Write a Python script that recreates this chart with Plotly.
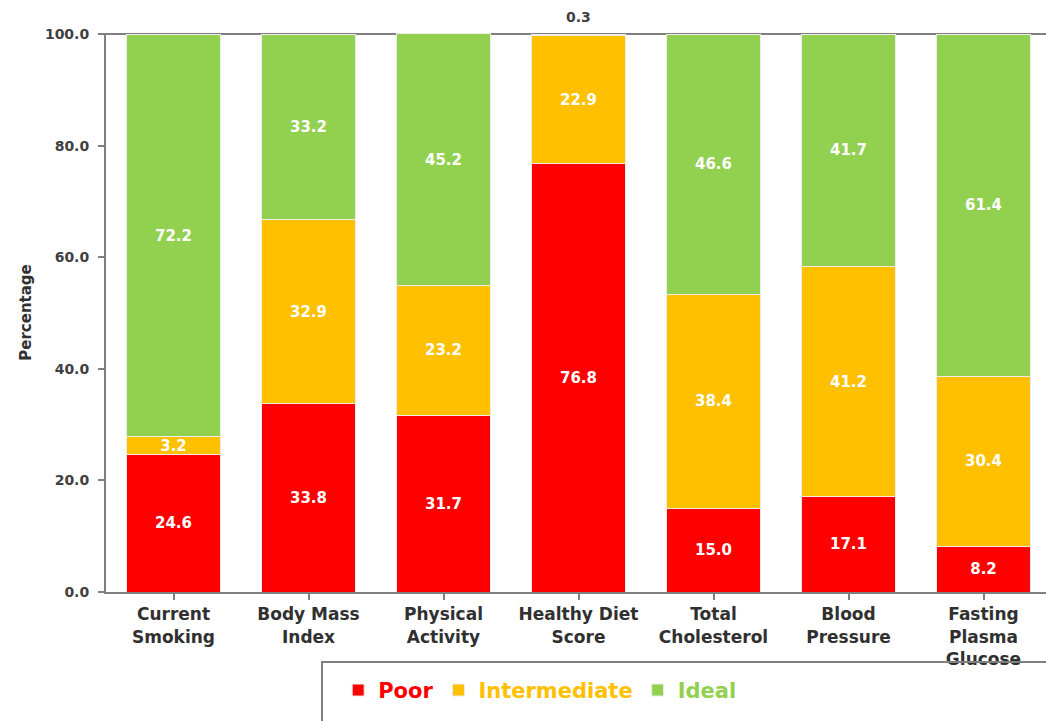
import plotly.graph_objects as go

# Cardiovascular health metrics: share of participants in each category
metrics = [
    "Current<br>Smoking",
    "Body Mass<br>Index",
    "Physical<br>Activity",
    "Healthy Diet<br>Score",
    "Total<br>Cholesterol",
    "Blood<br>Pressure",
    "Fasting<br>Plasma<br>Glucose",
]
poor = [24.6, 33.8, 31.7, 76.8, 15.0, 17.1, 8.2]
intermediate = [3.2, 32.9, 23.2, 22.9, 38.4, 41.2, 30.4]
ideal = [72.2, 33.2, 45.2, 0.3, 46.6, 41.7, 61.4]
y_ticks = [0, 20, 40, 60, 80, 100]

RED, AMBER, GREEN = "#FF0000", "#FFC000", "#92D050"
FONT = "DejaVu Sans"
THIN = 1.0  # segments thinner than this are labelled above the stack

x = list(range(len(metrics)))


def fmt(v):
    return f"{v:.1f}"


fig = go.Figure()
series = [
    ("Poor", poor, RED),
    ("Intermediate", intermediate, AMBER),
    ("Ideal", ideal, GREEN),
]
for name, vals, color in series:
    fig.add_trace(go.Bar(
        x=x, y=vals, width=0.70,
        name=f'<b><span style="color:{color}">{name}</span></b>',
        marker=dict(color=color, line=dict(color="#EDEDED", width=1)),
        text=["" if v < THIN else f"<b>{fmt(v)}</b>" for v in vals],
        textposition="inside",
        insidetextanchor="middle",
        insidetextfont=dict(family=FONT, size=15, color="white"),
        cliponaxis=False,
    ))

# labels for very thin segments, placed above the 100 % line
for i in x:
    if ideal[i] < THIN:
        fig.add_annotation(
            x=i, y=100, xref="x", yref="y", yanchor="bottom", yshift=7,
            text=f"<b>{fmt(ideal[i])}</b>", showarrow=False,
            font=dict(family=FONT, size=14, color="#404040"),
        )

fig.update_layout(
    width=1046, height=721,
    barmode="stack",
    plot_bgcolor="white", paper_bgcolor="white",
    margin=dict(l=106, r=0, t=33, b=129),
    uniformtext=dict(minsize=15, mode="show"),
    showlegend=True,
    legend=dict(
        orientation="h", x=0.247, y=-0.176, xanchor="left", yanchor="middle",
        font=dict(family=FONT, size=21),
        bgcolor="rgba(0,0,0,0)", itemclick=False,
        traceorder="normal",
    ),
    font=dict(family=FONT),
)

fig.update_xaxes(
    tickmode="array", tickvals=x,
    ticktext=[f"<b>{m}</b>" for m in metrics],
    range=[-0.5, 6.463],
    tickson="boundaries", ticks="outside", ticklen=6, tickcolor="#808080",
    tickwidth=2,
    showline=True, linecolor="#808080", linewidth=2,
    showgrid=False, zeroline=False,
    tickfont=dict(family=FONT, size=17, color="#303030"),
)
# a little headroom so stacks summing to 100.1 stay inside the axis
fig.update_yaxes(
    range=[0, 100.2],
    tickmode="array", tickvals=y_ticks,
    ticktext=[f"<b>{v:.1f}</b>" for v in y_ticks],
    ticks="outside", ticklen=6, tickcolor="#808080", tickwidth=2,
    ticklabelstandoff=6,
    showline=True, linecolor="#808080", linewidth=2,
    showgrid=False, zeroline=False,
    tickfont=dict(family=FONT, size=14, color="#404040"),
    title=dict(text="<b>Percentage</b>", font=dict(family=FONT, size=15, color="#303030"),
               standoff=10),
)

# top border line at 100 %, behind the bars
fig.add_shape(type="line", xref="paper", yref="y", x0=0, x1=1, y0=100, y1=100,
              line=dict(color="#808080", width=2), layer="below")

# frame around the legend
fig.add_shape(type="rect", xref="paper", yref="paper",
              x0=0.2298, x1=1.1, y0=-0.1254, y1=-0.35,
              line=dict(color="#808080", width=2), fillcolor="rgba(0,0,0,0)")

fig.write_html("out.html")
